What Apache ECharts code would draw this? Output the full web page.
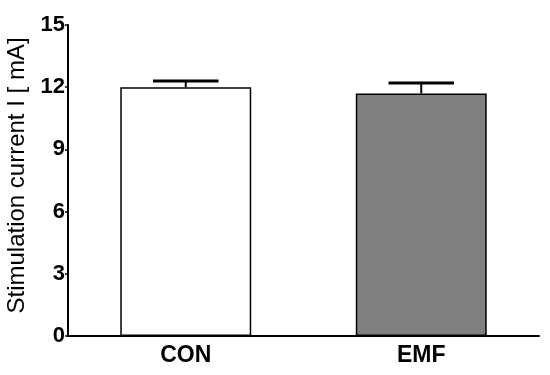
<!DOCTYPE html>
<html>
<head>
<meta charset="utf-8">
<script src="https://cdn.jsdelivr.net/npm/echarts@6/dist/echarts.min.js"></script>
<style>html,body{margin:0;padding:0;background:#fff}#c{width:550px;height:375px}</style>
</head>
<body>
<div id="c"></div>
<script>
var categories = ['CON', 'EMF'];
var means = [12.0, 11.7];
var errUpper = [12.3, 12.2];
var barColors = ['#ffffff', '#808080'];
var yTicks = [0, 3, 6, 9, 12, 15];

var chart = echarts.init(document.getElementById('c'), null, {renderer: 'canvas'});
var font = 'Liberation Sans, Arial, sans-serif';
chart.setOption({
  animation: false,
  grid: {left: 68, right: 11, top: 25, bottom: 39, containLabel: false, outerBoundsMode: 'none'},
  xAxis: {
    type: 'category',
    data: categories,
    axisLine: {lineStyle: {color: '#000', width: 2}},
    axisTick: {alignWithLabel: true, length: 3, lineStyle: {color: '#000', width: 1.5}},
    axisLabel: {color: '#000', fontSize: 23, fontWeight: 'bold', fontFamily: font, margin: 8}
  },
  yAxis: {
    type: 'value',
    min: 0, max: 15, interval: 3,
    name: 'Stimulation current I [ mA]',
    nameLocation: 'middle',
    nameGap: 32,
    nameTextStyle: {color: '#000', fontSize: 24, fontFamily: font, padding: [0, 0, 0, 10]},
    axisLine: {show: true, lineStyle: {color: '#000', width: 2}},
    axisTick: {show: true, length: 3, lineStyle: {color: '#000', width: 1.5}},
    splitLine: {show: false},
    axisLabel: {color: '#000', fontSize: 22, fontWeight: 'bold', fontFamily: font, margin: 3,
      formatter: function (v) { return yTicks.indexOf(v) >= 0 ? String(v) : ''; }}
  },
  series: [
    {
      type: 'bar',
      barWidth: '55.6%',
      data: means.map(function (v, i) {
        return {value: v, itemStyle: {color: barColors[i], borderColor: '#000', borderWidth: 1.5}};
      }),
      z: 2
    },
    {
      type: 'custom',
      z: 3,
      data: means.map(function (v, i) { return [i, v, errUpper[i]]; }),
      renderItem: function (params, api) {
        var x = api.value(0);
        var p0 = api.coord([x, api.value(1)]);
        var p1 = api.coord([x, api.value(2)]);
        var bw = api.size([1, 0])[0] * 0.556;
        var half = bw / 4;
        return {
          type: 'group',
          children: [
            {type: 'line', shape: {x1: p0[0], y1: p0[1], x2: p1[0], y2: p1[1]}, style: {stroke: '#000', lineWidth: 2}},
            {type: 'line', shape: {x1: p1[0] - half, y1: p1[1], x2: p1[0] + half, y2: p1[1]}, style: {stroke: '#000', lineWidth: 3}}
          ]
        };
      }
    }
  ]
});
</script>
</body>
</html>
